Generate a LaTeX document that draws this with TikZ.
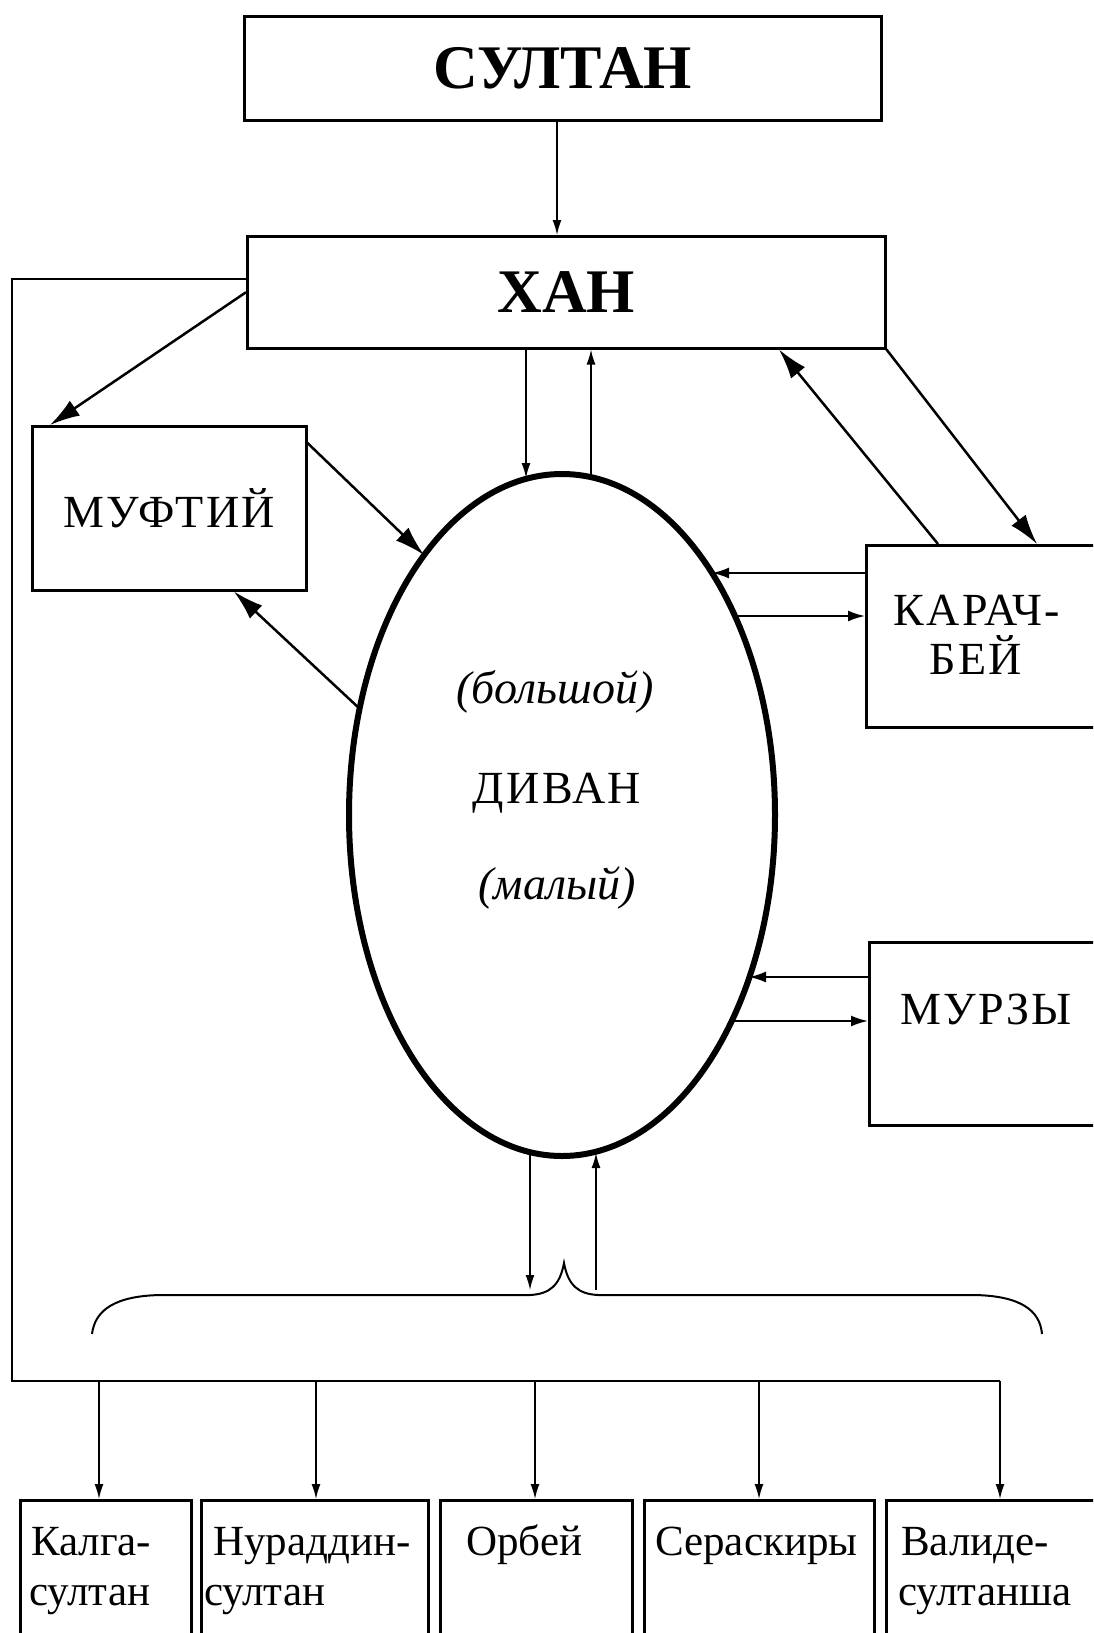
\documentclass[tikz,border=0pt]{standalone}
\usepackage{fontspec}
\setmainfont{Liberation Serif}
\newfontfamily\spacedfont[LetterSpace=5]{Liberation Serif}
\usetikzlibrary{arrows.meta,shapes.geometric}
\begin{document}
\begin{tikzpicture}[x=1pt,y=-1pt,
  box/.style={draw, line width=2.5pt, inner sep=0pt, anchor=north west},
  big/.style={font=\fontsize{62}{66}\selectfont\bfseries},
  mid/.style={font=\spacedfont\fontsize{46}{50}\selectfont},
  midit/.style={font=\fontsize{46}{50}\selectfont\itshape},
  small/.style={font=\fontsize{43}{47}\selectfont, anchor=base west, inner sep=0pt},
  thinarr/.style={line width=1.6pt, -{Latex[length=15pt,width=9pt]}},
  harr/.style={line width=2pt, -{Latex[length=17pt,width=11pt]}},
  diag/.style={line width=2.5pt, -{Latex[length=30pt,width=18pt]}},
  frameline/.style={line width=2.5pt}
]
\useasboundingbox (0,0) rectangle (1093,1633);
\clip (0,0) rectangle (1093,1633);

% boxes
\node[box, big, minimum width=637pt, minimum height=104pt] (sultan) at (243,15) {СУЛТАН};
\node[box, big, minimum width=638pt, minimum height=112pt] (han) at (246,235) {ХАН};
\node[box, mid, minimum width=274pt, minimum height=164pt] (mufti) at (31,425) {МУФТИЙ};
\node[box, minimum width=260pt, minimum height=182pt] (karach) at (865,544) {};
\node[box, minimum width=260pt, minimum height=183pt] (murzy) at (868,941) {};
\node[mid, anchor=base, inner sep=0pt] (karachT1) at (977,625) {КАРАЧ-};
\node[mid, anchor=base, inner sep=0pt] (karachT2) at (976,674) {БЕЙ};
\node[mid, anchor=base, inner sep=0pt] (murzyT) at (986,1024) {МУРЗЫ};

% divan
\node[draw, ellipse, line width=6pt, inner sep=0pt, minimum width=426pt, minimum height=682pt] (divan) at (562,815) {};
\node[midit, anchor=base, inner sep=0pt] (divT1) at (555,703) {(большой)};
\node[mid, anchor=base, inner sep=0pt] (divT2) at (557,803) {ДИВАН};
\node[midit, anchor=base, inner sep=0pt] (divT3) at (557,899) {(малый)};

% points on the egg border
\coordinate (dT1) at (526,478);
\coordinate (dT2) at (591,477);
\coordinate (dM1) at (424,555);
\coordinate (dM2) at (360,709);
\coordinate (dK1) at (712,573);
\coordinate (dK2) at (735,616);
\coordinate (dZ1) at (749,977);
\coordinate (dZ2) at (732,1021);
\coordinate (dB1) at (530,1153);
\coordinate (dB2) at (596,1153);
\coordinate (brL) at (530,1290);
\coordinate (brR) at (596,1290);

% bottom boxes
\node[box, minimum width=171pt, minimum height=200pt] (kalga) at (19,1499) {};
\node[box, minimum width=227pt, minimum height=200pt] (nur) at (200,1499) {};
\node[box, minimum width=192pt, minimum height=200pt] (orbey) at (439,1499) {};
\node[box, minimum width=230pt, minimum height=200pt] (serask) at (643,1499) {};
\node[box, minimum width=230pt, minimum height=200pt] (valide) at (885,1499) {};

\node[small] (kalgaT1) at (31,1555) {Калга-};
\node[small] (kalgaT2) at (29,1605) {султан};
\node[small] (nurT1) at (213,1555) {Нураддин-};
\node[small] (nurT2) at (204,1605) {султан};
\node[small] (orbeyT) at (466,1555) {Орбей};
\node[small] (seraskT) at (655,1555) {Сераскиры};
\node[small] (valideT1) at (901,1555) {Валиде-};
\node[small] (valideT2) at (898,1605) {султанша};

% connectors
\draw[thinarr] (557,0 |- sultan.south) -- (557,0 |- han.north);
\draw[thinarr] (526,0 |- han.south) -- (dT1);
\draw[thinarr] (dT2) -- (591,0 |- han.south);

\draw[diag] (han.west) -- ([xshift=19pt]mufti.north west);
\draw[diag] ([yshift=-18pt]mufti.north east) -- (dM1);
\draw[diag] (dM2) -- (234,0 |- mufti.south);

\draw[diag] (938,0 |- karach.north) -- (779,0 |- han.south);
\draw[diag] (han.south east) -- (1037,0 |- karach.north);

\draw[harr] (karach.west |- dK1) -- (dK1);
\draw[harr] (dK2) -- (karach.west |- dK2);
\draw[harr] (murzy.west |- dZ1) -- (dZ1);
\draw[harr] (dZ2) -- (murzy.west |- dZ2);

\draw[thinarr] (dB1) -- (brL);
\draw[thinarr] (brR) -- (dB2);

% brace
\draw[line width=2pt] (92,1334) .. controls (95,1310) and (115,1296) .. (160,1295) -- (530,1295)
  .. controls (550,1294) and (560,1285) .. (564,1263)
  .. controls (568,1285) and (578,1294) .. (598,1295) -- (975,1295)
  .. controls (1020,1296) and (1040,1310) .. (1042,1334);

% frame line from khan to the lower row
\draw[frameline] (han.west |- 0,279) -- (12,279) -- (12,1381) -- (1000,1381);
\draw[thinarr] (99,1381) -- (99,0 |- kalga.north);
\draw[thinarr] (316,1381) -- (316,0 |- nur.north);
\draw[thinarr] (535,1381) -- (535,0 |- orbey.north);
\draw[thinarr] (759,1381) -- (759,0 |- serask.north);
\draw[thinarr] (1000,1381) -- (1000,0 |- valide.north);
\end{tikzpicture}
\end{document}
